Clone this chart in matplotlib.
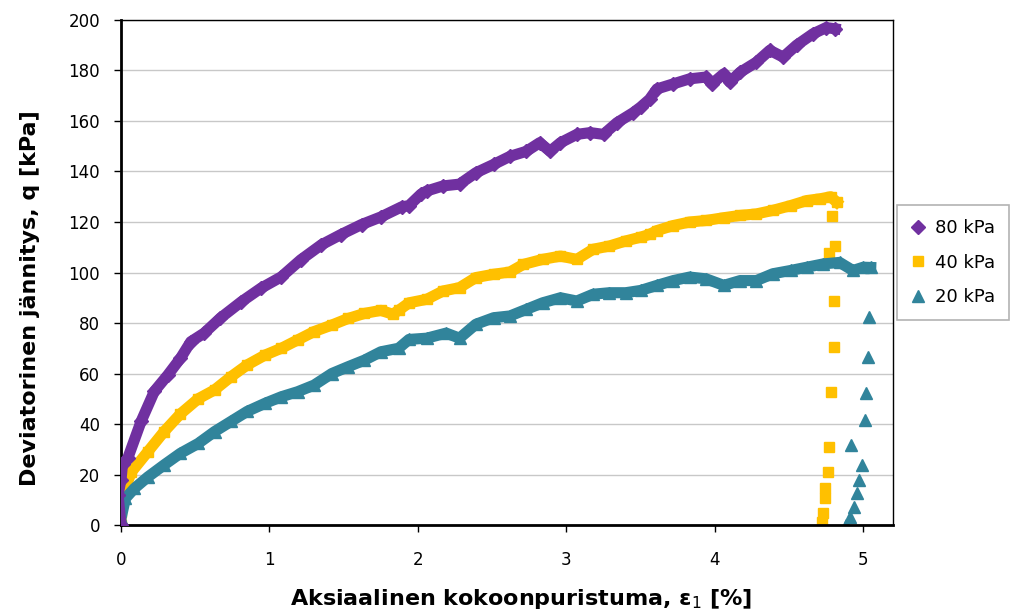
import numpy as np
import matplotlib
matplotlib.use('Agg')
import matplotlib.pyplot as plt

# 80 kPa - kuormitus
x80 = [0.0, -0.02, 0.0, 0.01, 0.045, 0.135, 0.225, 0.315, 0.40, 0.47, 0.56, 0.67, 0.81, 0.94,
       1.08, 1.21, 1.35, 1.48, 1.62, 1.75, 1.89, 1.94, 2.02, 2.06, 2.17, 2.28, 2.39, 2.51, 2.62,
       2.73, 2.82, 2.89, 2.96, 3.07, 3.16, 3.25, 3.34, 3.45, 3.50, 3.56, 3.61, 3.72, 3.83, 3.94,
       3.98, 4.06, 4.10, 4.17, 4.28, 4.37, 4.46, 4.55, 4.66, 4.75, 4.81]
q80 = [0.0, 12, 18, 24, 26.4, 41, 53, 59.4, 66, 72.6, 76, 82, 88.4, 93.7,
       98.3, 105, 111, 115, 119, 122, 126, 126.5, 131, 132.3, 134.3, 135, 139.5, 142.8, 146,
       148, 151.4, 148, 151.4, 154.7, 155.4, 154.7, 159.3, 163.3, 165.5, 168.6, 172.7, 174.7, 176.7, 177.4,
       174.7, 178.7, 175.4, 179.3, 183.3, 188, 185.3, 190, 194.5, 197, 196.5]

# 40 kPa - kuormitus
x40 = [0.0, 0.0, 0.01, 0.07, 0.18, 0.29, 0.40, 0.52, 0.63, 0.74, 0.85, 0.97, 1.08, 1.19,
       1.30, 1.42, 1.53, 1.64, 1.75, 1.83, 1.87, 1.94, 2.06, 2.17, 2.28, 2.39, 2.51, 2.62,
       2.71, 2.84, 2.96, 3.07, 3.18, 3.29, 3.40, 3.50, 3.56, 3.61, 3.72, 3.83, 3.94, 4.06,
       4.17, 4.28, 4.39, 4.51, 4.62, 4.71, 4.78, 4.82]
q40 = [0.0, 5, 11.9, 21, 29, 37, 44, 50, 53.5, 58.7, 63.4, 67.3, 70, 73.3,
       76.6, 79.2, 81.8, 83.8, 85, 83.5, 85, 88, 89.4, 92.7, 94, 98, 99.3, 100.2,
       103.2, 105.2, 106.5, 105.2, 109.2, 110.5, 112.5, 114, 115.1, 116.6, 118.6, 120, 120.6, 121.7,
       122.6, 123.2, 124.6, 126.5, 128.5, 129.2, 130, 127.9]
# 40 kPa - purku
x40u = [4.79, 4.81, 4.77, 4.80, 4.80, 4.78, 4.77, 4.76, 4.74, 4.74, 4.73, 4.72]
q40u = [122.2, 110.4, 107.7, 88.6, 70.6, 52.8, 31, 21, 14.6, 10.6, 4.6, 1.3]

# 20 kPa - kuormitus
x20 = [0.0, 0.0, 0.03, 0.09, 0.18, 0.29, 0.40, 0.52, 0.63, 0.74, 0.85, 0.97, 1.08, 1.19,
       1.30, 1.42, 1.53, 1.64, 1.75, 1.87, 1.94, 2.06, 2.19, 2.28, 2.39, 2.51, 2.62, 2.73,
       2.84, 2.96, 3.07, 3.18, 3.29, 3.40, 3.50, 3.61, 3.72, 3.83, 3.94, 4.06, 4.17, 4.28,
       4.39, 4.51, 4.62, 4.73, 4.84, 4.93, 5.00, 5.05]
q20 = [0.0, 2.6, 10.6, 14.5, 19, 23.8, 28.4, 32.3, 37, 41, 45, 48.2, 50.8, 52.8,
       55.4, 60, 62.7, 65.3, 68.6, 70, 73.5, 74, 76, 74, 79.5, 82.1, 82.8, 85.4,
       88, 90, 88.7, 91.4, 92, 92, 92.9, 94.9, 96.8, 98.2, 97.5, 94.9, 96.8, 96.8,
       99.5, 100.8, 102.1, 103.4, 104, 100.8, 102.1, 102]
# 20 kPa - purku
x20u = [5.04, 5.03, 5.02, 5.01, 4.92, 4.99, 4.97, 4.96, 4.94, 4.91, 4.88]
q20u = [82.5, 66.7, 52.2, 41.6, 31.7, 23.8, 17.8, 12.5, 7.3, 3.3, 0.0]

c80 = '#7030A0'
c40 = '#FFC000'
c20 = '#31849B'

fig = plt.figure(figsize=(10.11, 6.15), dpi=100)
ax = fig.add_axes([0.1197, 0.1463, 0.7636, 0.8212])

ax.plot(x80, q80, color=c80, lw=8, solid_joinstyle='round', zorder=3)
ax.plot(x80, q80, 'D', color=c80, ms=7, zorder=3, label='80 kPa')

ax.plot(x40, q40, color=c40, lw=8, solid_joinstyle='round', zorder=2)
ax.plot(x40, q40, 's', color=c40, ms=7, zorder=2, label='40 kPa')
ax.plot(x40u, q40u, 's', color=c40, ms=7, zorder=2)

ax.plot(x20, q20, color=c20, lw=8, solid_joinstyle='round', zorder=2)
ax.plot(x20, q20, '^', color=c20, ms=8, zorder=2, label='20 kPa')
ax.plot(x20u, q20u, '^', color=c20, ms=8, zorder=2)

ax.set_xlim(0, 5.2)
ax.set_ylim(0, 200)
ax.set_xticks([0, 1, 2, 3, 4, 5])
ax.set_yticks(np.arange(0, 201, 20))
ax.yaxis.grid(True, color='#c8c8c8', lw=1)
ax.set_axisbelow(True)

for s in ['left', 'bottom']:
    ax.spines[s].set_linewidth(2)
for s in ['top', 'right']:
    ax.spines[s].set_linewidth(1)
ax.tick_params(direction='out', length=5, width=1, labelsize=12, colors='black')
ax.tick_params(axis='x', pad=14)
ax.tick_params(axis='y', pad=10)

ax.set_xlabel('Aksiaalinen kokoonpuristuma, ε$_1$ [%]', fontsize=16, fontweight='bold')
ax.set_ylabel('Deviatorinen jännitys, q [kPa]', fontsize=16, fontweight='bold')
ax.xaxis.set_label_coords(0.518, -0.123)
ax.yaxis.set_label_coords(-0.105, 0.45)

leg = ax.legend(loc='center left', bbox_to_anchor=(0.887, 0.573), bbox_transform=fig.transFigure,
                fontsize=13, frameon=True, fancybox=False, edgecolor='#a0a0a0',
                handlelength=0.8, handletextpad=0.5, borderpad=0.8, labelspacing=0.9,
                borderaxespad=0)
leg.get_frame().set_linewidth(1.2)

fig.savefig('out.png', dpi=100)
